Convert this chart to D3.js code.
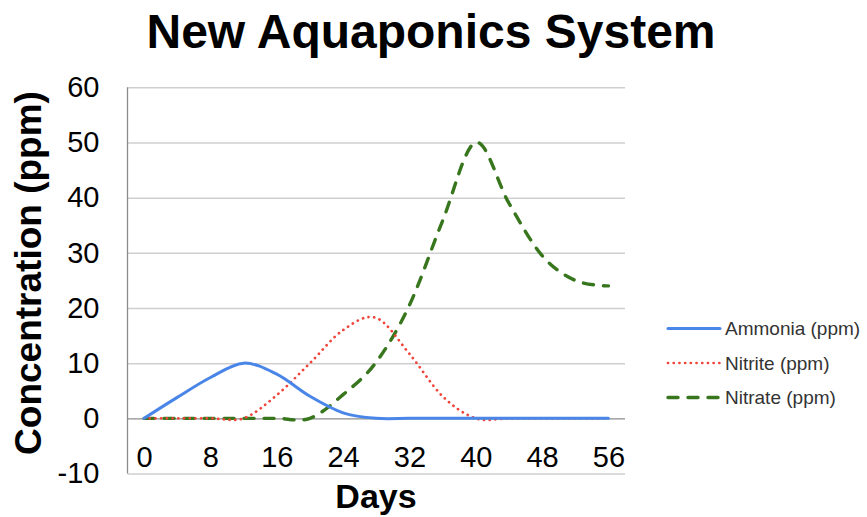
<!DOCTYPE html>
<html>
<head>
<meta charset="utf-8">
<script src="https://cdn.jsdelivr.net/npm/d3@7/dist/d3.min.js"></script>
<style>
  html, body { margin: 0; padding: 0; background: #ffffff; }
  svg { display: block; font-family: "Liberation Sans", Arial, sans-serif; }
</style>
</head>
<body>
<svg id="chart" width="867" height="517"></svg>
<script>
// Sampling days (every 4 days over 8 weeks)
const days = [0, 4, 8, 12, 16, 20, 24, 28, 32, 36, 40, 44, 48, 52, 56];

// Measured concentrations in ppm
const ammonia = [0, 3.8, 7.4, 10, 8, 4, 1, 0, 0, 0, 0, 0, 0, 0, 0];
const nitrite = [0, 0, 0, 0, 4.2, 10, 16, 18.2, 11.7, 4, 0, 0, 0, 0, 0];
const nitrate = [0, 0, 0, 0, 0, 0, 4.3, 10.2, 20.5, 35.8, 50, 39, 29.5, 25, 24];

const seriesNames = ["Ammonia (ppm)", "Nitrite (ppm)", "Nitrate (ppm)"];
const xTicks = [0, 8, 16, 24, 32, 40, 48, 56];
const yTicks = [-10, 0, 10, 20, 30, 40, 50, 60];

const title = "New Aquaponics System";
const xTitle = "Days";
const yTitle = "Concentration (ppm)";

const svg = d3.select("#chart");

const plot = { left: 127.5, right: 625, top: 87.3, bottom: 473.5 };

const x = d3.scaleLinear().domain([-2, 58]).range([plot.left, plot.right]);
const y = d3.scaleLinear().domain([-10, 60]).range([plot.bottom, plot.top]);

// Plain hyphen for negative numbers
const fmt = d => String(d);

const series = [
  { name: seriesNames[0], values: ammonia, color: "#4a86e8", width: 3, dash: null, cap: "round" },
  { name: seriesNames[1], values: nitrite, color: "#f0443a", width: 2.7, dash: "0.1,5.6", cap: "round" },
  { name: seriesNames[2], values: nitrate, color: "#38761d", width: 3.4, dash: "10,10", cap: "round" }
];

// Horizontal gridlines
const grid = svg.append("g")
  .attr("transform", `translate(${plot.left},0)`)
  .call(d3.axisLeft(y).tickValues(yTicks).tickSize(-(plot.right - plot.left)).tickFormat(""));
grid.select(".domain").remove();
grid.selectAll(".tick line")
  .attr("stroke", d => d === 0 ? "#8c8c8c" : "#cfcfcf")
  .attr("stroke-width", d => d === 0 ? 1.3 : 1.5);

// Left axis line
svg.append("line")
  .attr("x1", plot.left).attr("x2", plot.left)
  .attr("y1", plot.top).attr("y2", plot.bottom)
  .attr("stroke", "#8c8c8c").attr("stroke-width", 1.3);

// Y tick labels
const yAxis = svg.append("g")
  .attr("transform", `translate(${plot.left},0)`)
  .call(d3.axisLeft(y).tickValues(yTicks).tickSize(0).tickPadding(28).tickFormat(fmt));
yAxis.select(".domain").remove();
yAxis.selectAll("text")
  .attr("font-size", 29).attr("fill", "#000")
  .attr("font-family", "Liberation Sans, Arial, sans-serif");

// X tick labels, sitting above the bottom edge of the plot
const xAxis = svg.append("g")
  .attr("transform", `translate(0,${plot.bottom})`)
  .call(d3.axisTop(x).tickValues(xTicks).tickSize(0).tickPadding(7).tickFormat(fmt));
xAxis.select(".domain").remove();
xAxis.selectAll("text")
  .attr("font-size", 29).attr("fill", "#000")
  .attr("font-family", "Liberation Sans, Arial, sans-serif");

// Series lines, smoothed
const line = d3.line()
  .x((d, i) => x(days[i]))
  .y(d => y(d))
  .curve(d3.curveCatmullRom.alpha(0));

svg.append("g").selectAll("path")
  .data(series.slice().reverse())
  .join("path")
  .attr("d", d => line(d.values))
  .attr("fill", "none")
  .attr("stroke", d => d.color)
  .attr("stroke-width", d => d.width)
  .attr("stroke-dasharray", d => d.dash)
  .attr("stroke-linecap", d => d.cap)
  .attr("stroke-linejoin", "round");

// Title
svg.append("text")
  .attr("x", 431).attr("y", 48)
  .attr("text-anchor", "middle")
  .attr("font-size", 48).attr("font-weight", "bold")
  .text(title);

// Axis titles
svg.append("text")
  .attr("x", 376).attr("y", 508)
  .attr("text-anchor", "middle")
  .attr("font-size", 34).attr("font-weight", "bold")
  .text(xTitle);

svg.append("text")
  .attr("transform", "translate(41,273) rotate(-90)")
  .attr("text-anchor", "middle")
  .attr("font-size", 37).attr("font-weight", "bold")
  .text(yTitle);

// Legend
const legend = svg.append("g").selectAll("g")
  .data(series)
  .join("g")
  .attr("transform", (d, i) => `translate(668,${328.5 + i * 34.5})`);

legend.append("line")
  .attr("x1", 0).attr("x2", 52)
  .attr("stroke", d => d.color)
  .attr("stroke-width", d => d.width)
  .attr("stroke-dasharray", d => d.dash)
  .attr("stroke-linecap", d => d.cap);

legend.append("text")
  .attr("x", 57).attr("dy", "0.35em")
  .attr("font-size", 19).attr("fill", "#333")
  .text(d => d.name);
</script>
</body>
</html>
